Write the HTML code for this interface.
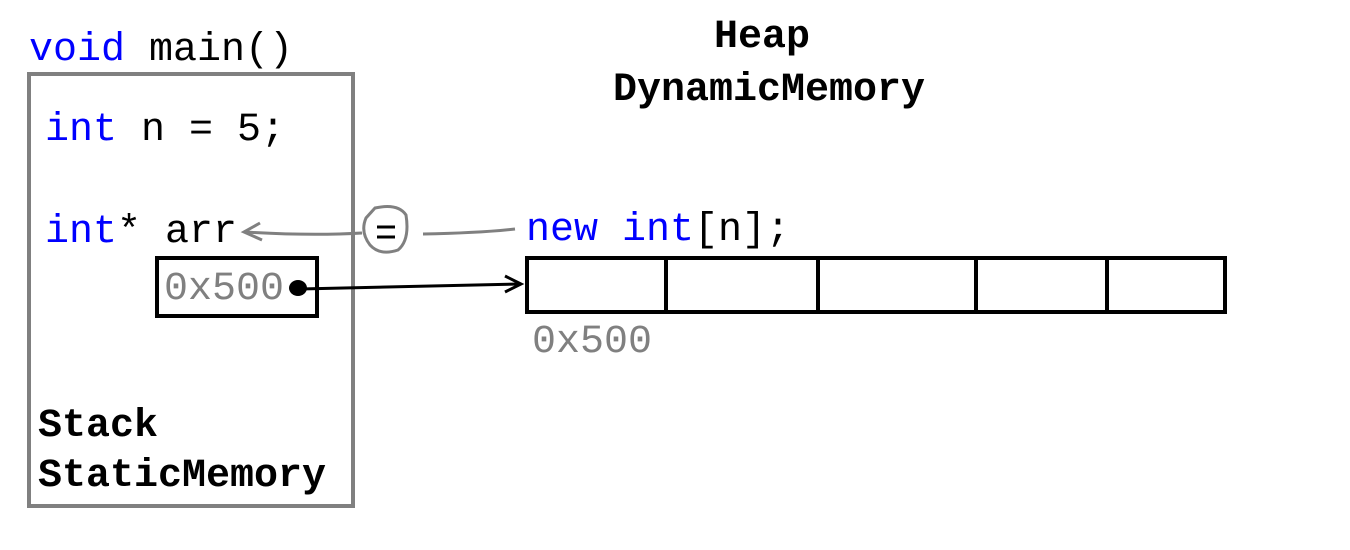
<!DOCTYPE html>
<html><head><style>body{margin:0;background:#fff}svg{display:block}</style></head>
<body>
<svg width="1350" height="550" xmlns="http://www.w3.org/2000/svg" font-family="Liberation Mono, monospace" font-size="40">
<rect x="29" y="74" width="324" height="432" fill="none" stroke="#808080" stroke-width="4"/>
<text x="29" y="60"><tspan fill="#0000ff">void</tspan> main()</text>
<text x="45" y="140"><tspan fill="#0000ff">int</tspan> n = 5;</text>
<text x="45" y="242"><tspan fill="#0000ff">int</tspan>* arr</text>
<rect x="157" y="258" width="160" height="58" fill="none" stroke="#000" stroke-width="4"/>
<text x="164" y="299" fill="#808080">0x500</text>
<ellipse cx="298" cy="288" rx="9" ry="8" fill="#000"/>
<path d="M300 289 L520 284" stroke="#000" stroke-width="3" fill="none"/>
<path d="M505 276 L521 284 L505 292" stroke="#000" stroke-width="3" fill="none"/>
<text x="38" y="436" font-weight="bold">Stack</text>
<text x="38" y="486" font-weight="bold">StaticMemory</text>
<text x="762" y="47" font-weight="bold" text-anchor="middle">Heap</text>
<text x="769" y="100" font-weight="bold" text-anchor="middle">DynamicMemory</text>
<text x="526" y="240"><tspan fill="#0000ff">new int</tspan>[n];</text>
<path d="M245 232 Q310 236 362 233" stroke="#808080" stroke-width="3" fill="none"/>
<path d="M260 223 L244 232 L262 240" stroke="#808080" stroke-width="3" fill="none"/>
<path d="M423 234 Q480 233 515 229" stroke="#808080" stroke-width="3" fill="none"/>
<path d="M375 208 Q398 203 406 215 Q410 240 398 250 Q380 256 370 245 Q360 232 366 218 Z" stroke="#808080" stroke-width="3" fill="none"/>
<path d="M377 227H395M377 237H395" stroke="#000" stroke-width="3"/>
<rect x="527" y="258" width="698" height="54" fill="none" stroke="#000" stroke-width="4"/>
<path d="M666 258V312M818 258V312M976 258V312M1107 258V312" stroke="#000" stroke-width="4"/>
<text x="532" y="352" fill="#808080">0x500</text>
</svg>
</body></html>
